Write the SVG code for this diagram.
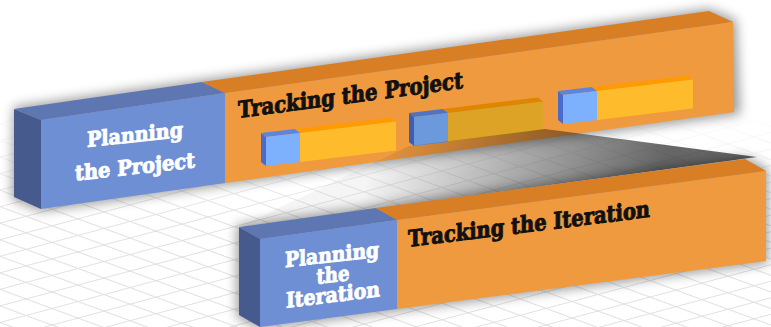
<svg xmlns="http://www.w3.org/2000/svg" width="771" height="327" viewBox="0 0 771 327">
<style>
.bside{fill:#465A8E}.btop{fill:#5E76B2}.bfront{fill:#6F8FD4}
.otop{fill:#D87E24}.ofront{fill:#F09A40}
.sblue{fill:#7DB0FD}.sbside{fill:#4A6BC9}.sbtop{fill:#5C86DE}
.syel{fill:#FEBC2C}.systrip{fill:#FF9A00}
.white{font-family:"DejaVu Serif","Liberation Serif",serif;font-weight:bold;fill:#fff;stroke:#fff;stroke-width:0.9;font-size:21px;text-anchor:middle}
.black{font-family:"DejaVu Serif","Liberation Serif",serif;font-weight:bold;fill:#111;stroke:#111;stroke-width:1;font-size:23px}
.shadow{fill:#000;opacity:0.4;filter:url(#blur)}
</style>
<defs>
<pattern id="grid" patternUnits="userSpaceOnUse" width="26" height="26" patternTransform="matrix(1,-0.268,1,0.368,0,0)">
<path d="M0 13H26M13 0V26" stroke="#dedede" stroke-width="1.6" fill="none"/>
</pattern>
<linearGradient id="fade" gradientUnits="userSpaceOnUse" x1="0" y1="110" x2="0" y2="220">
<stop offset="0" stop-color="#fff" stop-opacity="1"/>
<stop offset="1" stop-color="#fff" stop-opacity="0"/>
</linearGradient>
<linearGradient id="beam" gradientUnits="userSpaceOnUse" x1="380" y1="140" x2="640" y2="230">
<stop offset="0" stop-color="#000" stop-opacity="0.04"/>
<stop offset="0.5" stop-color="#000" stop-opacity="0.33"/>
<stop offset="1" stop-color="#000" stop-opacity="0.6"/>
</linearGradient>
<filter id="blur" x="-20%" y="-50%" width="140%" height="200%">
<feGaussianBlur stdDeviation="6"/>
</filter>
</defs>
<rect width="771" height="327" fill="#fff"/>
<rect width="771" height="327" fill="url(#grid)"/>
<rect width="771" height="327" fill="url(#fade)"/>

<!-- top bar -->
<polygon class="shadow" points="14,107 202,80 709,9 736,20 740,114 225,185 41,211 12,199"/>
<g id="planning-project">
<polygon class="bside" points="14,109 41,120 41,209 14,197"/>
<polygon class="btop" points="14,109 202,82 225,93 41,120"/>
<polygon class="bfront" points="41,120 225,93 225,183 41,209"/>
<text class="white" transform="translate(135,142) skewY(-6)" textLength="96" lengthAdjust="spacingAndGlyphs">Planning</text>
<text class="white" transform="translate(135,174) skewY(-6.3)" textLength="120" lengthAdjust="spacingAndGlyphs">the Project</text>
</g>
<g id="tracking-project">
<polygon class="otop" points="202,82 709,11 733,22 225,93"/>
<polygon class="ofront" points="225,93 733,22 734,112 225,183"/>
<text class="black" transform="translate(238,118) skewY(-7.6)" textLength="225" lengthAdjust="spacingAndGlyphs">Tracking the Project</text>
</g>

<g id="iteration-1">
<polygon class="sbside" points="261,133 266,137 266,166 261,162"/>
<polygon class="sbtop" points="261,133 295,128.9 300,132.9 266,137"/>
<polygon class="sblue" points="266,137 300,132.9 300,161.9 266,166"/>
<polygon class="systrip" points="295,128.9 391,117.4 396,121.4 300,132.9"/>
<polygon class="syel" points="300,132.9 396,121.4 396,150.4 300,161.9"/>
</g>
<g id="iteration-2">
<polygon class="sbside" points="409,113 414,117 414,146 409,142"/>
<polygon class="sbtop" points="409,113 443,108.9 448,112.9 414,117"/>
<polygon class="sblue" points="414,117 448,112.9 448,141.9 414,146"/>
<polygon class="systrip" points="443,108.9 538,97.5 543,101.5 448,112.9"/>
<polygon class="syel" points="448,112.9 543,101.5 543,130.5 448,141.9"/>
<polygon fill="#000" opacity="0.13" points="409,113 443,108.9 538,97.5 543,101.5 543,130.5 414,146 409,142"/>
</g>
<g id="iteration-3">
<polygon class="sbside" points="558,91 563,95 563,124 558,120"/>
<polygon class="sbtop" points="558,91 592,86.9 597,90.9 563,95"/>
<polygon class="sblue" points="563,95 597,90.9 597,119.9 563,124"/>
<polygon class="systrip" points="592,86.9 688,75.4 693,79.4 597,90.9"/>
<polygon class="syel" points="597,90.9 693,79.4 693,108.4 597,119.9"/>
</g>

<g id="connectors">
<polygon fill="url(#beam)" points="409,146 545,129 757,157 239,227"/>
</g>

<!-- lower bar -->
<polygon class="shadow" points="237,225 376,206 745,157 768,169 768,263 397,311 260,329 237,317"/>
<g id="planning-iteration">
<polygon class="bside" points="239,227 260,239 260,327 239,315"/>
<polygon class="btop" points="239,227 376,208 397,220 260,239"/>
<polygon class="bfront" points="260,239 397,220 397,309 260,327"/>
<text class="white" transform="translate(332,262) skewY(-6.3)" textLength="94" lengthAdjust="spacingAndGlyphs">Planning</text>
<text class="white" transform="translate(333,282) skewY(-6.5)" textLength="33" lengthAdjust="spacingAndGlyphs">the</text>
<text class="white" transform="translate(333,302) skewY(-7)" textLength="94" lengthAdjust="spacingAndGlyphs">Iteration</text>
</g>
<g id="tracking-iteration">
<polygon class="otop" points="376,208 745,159 766,171 397,220"/>
<polygon class="ofront" points="397,220 766,171 766,261 397,309"/>
<text class="black" transform="translate(408,247) skewY(-7.1)" textLength="242" lengthAdjust="spacingAndGlyphs">Tracking the Iteration</text>
</g>
</svg>
